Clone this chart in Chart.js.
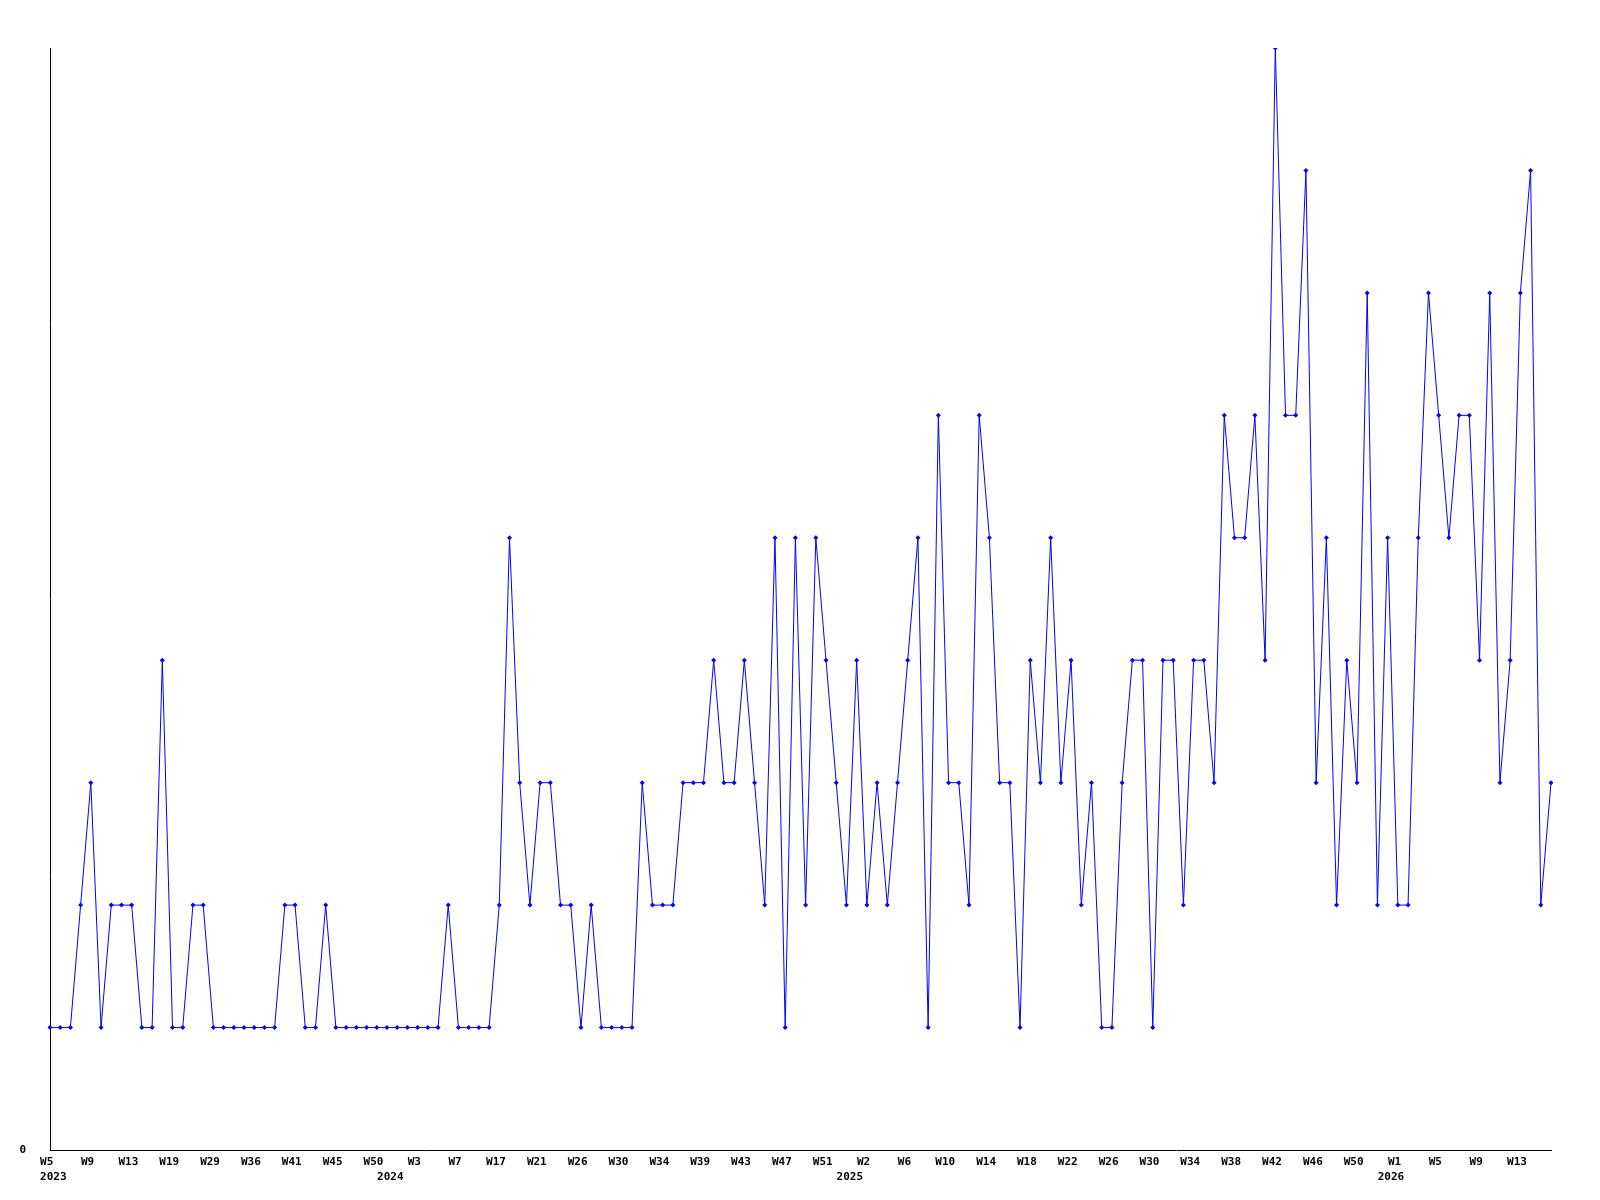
<!DOCTYPE html>
<html>
<head>
<meta charset="utf-8">
<script src="https://cdn.jsdelivr.net/npm/chart.js@4"></script>
<style>
  html, body { margin: 0; padding: 0; background: #fff; }
  #wrap { width: 1600px; height: 1200px; position: relative; }
</style>
</head>
<body>
<div id="wrap"><canvas id="weeklyChart"></canvas></div>
<script>
// Weekly counts, one value per week (oldest first)
const counts = [
  1, 1, 1, 2, 3, 1, 2, 2, 2, 1,
  1, 4, 1, 1, 2, 2, 1, 1, 1, 1,
  1, 1, 1, 2, 2, 1, 1, 2, 1, 1,
  1, 1, 1, 1, 1, 1, 1, 1, 1, 2,
  1, 1, 1, 1, 2, 5, 3, 2, 3, 3,
  2, 2, 1, 2, 1, 1, 1, 1, 3, 2,
  2, 2, 3, 3, 3, 4, 3, 3, 4, 3,
  2, 5, 1, 5, 2, 5, 4, 3, 2, 4,
  2, 3, 2, 3, 4, 5, 1, 6, 3, 3,
  2, 6, 5, 3, 3, 1, 4, 3, 5, 3,
  4, 2, 3, 1, 1, 3, 4, 4, 1, 4,
  4, 2, 4, 4, 3, 6, 5, 5, 6, 4,
  9, 6, 6, 8, 3, 5, 2, 4, 3, 7,
  2, 5, 2, 2, 5, 7, 6, 5, 6, 6,
  4, 7, 3, 4, 7, 8, 2, 3
]

// Week labels shown on every 4th point
const weekTicks = [
  'W5', 'W9', 'W13', 'W19', 'W29', 'W36', 'W41', 'W45', 'W50',
  'W3', 'W7', 'W17', 'W21', 'W26', 'W30', 'W34', 'W39', 'W43', 'W47', 'W51',
  'W2', 'W6', 'W10', 'W14', 'W18', 'W22', 'W26', 'W30', 'W34', 'W38', 'W42', 'W46', 'W50',
  'W1', 'W5', 'W9', 'W13'
]
const tickEvery = 4

// Year labels and the point where each one sits
const yearLabels = ['2023', '2024', '2025', '2026']
const yearIndex = [0, 33, 78, 131]

const categories = counts.map((_, i) => i)
const axisFont = { family: '"DejaVu Sans Mono", "Liberation Mono", monospace', size: 11, weight: 'bold', lineHeight: 1.4 }

new Chart(document.getElementById('weeklyChart').getContext('2d'), {
  type: 'line',
  data: {
    labels: categories,
    datasets: [{
      data: counts,
      borderColor: '#0000ff',
      backgroundColor: '#0000ff',
      borderWidth: 1,
      tension: 0,
      fill: false,
      pointStyle: 'rectRot',
      pointRadius: 2.5,
      pointBorderWidth: 0,
      pointHoverRadius: 2.5
    }]
  },
  options: {
    responsive: true,
    maintainAspectRatio: false,
    animation: false,
    layout: { padding: { top: 48, right: 49, bottom: 0, left: 0 } },
    plugins: {
      legend: { display: false },
      tooltip: { enabled: false }
    },
    scales: {
      x: {
        type: 'category',
        offset: false,
        grid: { display: false, drawTicks: false },
        border: { display: true, color: '#000', width: 1 },
        afterFit: s => { s.height = 50 },
        ticks: {
          autoSkip: false,
          maxRotation: 0,
          minRotation: 0,
          padding: 4,
          color: '#000',
          font: axisFont,
          callback: function(value, index) {
            // week names sit a little left of the point, years a little right
            const week = index % tickEvery === 0 ? (weekTicks[index / tickEvery] || '') + ' ' : ''
            const y = yearIndex.indexOf(index)
            return y >= 0 ? [week, ' ' + yearLabels[y]] : week
          }
        }
      },
      y: {
        min: 0,
        max: 9,
        grid: { display: false, drawTicks: false },
        border: { display: true, color: '#000', width: 1 },
        afterFit: s => { s.width = 50 },
        afterBuildTicks: s => { s.ticks = [{ value: 0 }] },
        ticks: {
          padding: 24,
          color: '#000',
          font: axisFont
        }
      }
    }
  }
})
</script>
</body>
</html>
